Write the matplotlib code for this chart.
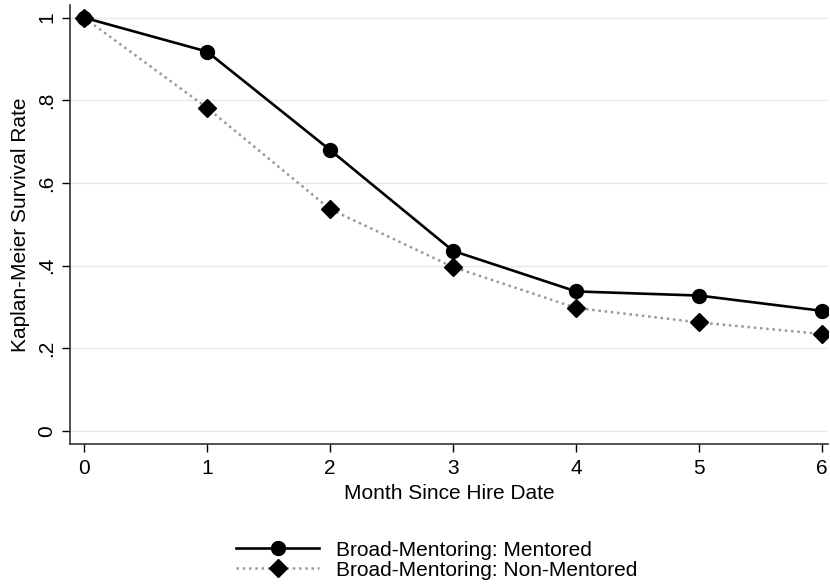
import numpy as np
import matplotlib.pyplot as plt

plt.rcParams['font.family'] = ['Liberation Sans', 'DejaVu Sans']

# Kaplan-Meier survival by month since hire
months = [0, 1, 2, 3, 4, 5, 6]
mentored = [1.0, 0.918, 0.680, 0.436, 0.338, 0.328, 0.291]
non_mentored = [1.0, 0.782, 0.537, 0.397, 0.298, 0.263, 0.235]

y_ticks = [0, 0.2, 0.4, 0.6, 0.8, 1.0]
y_tick_labels = ['0', '.2', '.4', '.6', '.8', '1']

fig = plt.figure(figsize=(8.3, 5.84), dpi=100)
ax = fig.add_axes([0.0843, 0.2397, 0.9137, 0.7513])

ax.plot(months, non_mentored, color='#999999', linestyle=(0, (1, 1.5)), linewidth=1.8,
        marker='D', markersize=9, markerfacecolor='black', markeredgecolor='black',
        label='Broad-Mentoring: Non-Mentored', zorder=3)
ax.plot(months, mentored, color='black', linewidth=1.9,
        marker='o', markersize=10, markerfacecolor='black', markeredgecolor='black',
        label='Broad-Mentoring: Mentored', zorder=4)

ax.set_xlim(-0.114, 6.05)
ax.set_ylim(-0.031, 1.03)
ax.set_xticks(months)
ax.set_yticks(y_ticks)
ax.set_yticklabels(y_tick_labels, rotation=90, va='center')
ax.tick_params(axis='both', direction='out', length=6, width=1, labelsize=15, colors='black')
ax.tick_params(axis='y', pad=4)
ax.tick_params(axis='x', pad=5)

ax.grid(axis='y', color='#e8e8e8', linewidth=1)
ax.set_axisbelow(True)
for side in ['top', 'right']:
    ax.spines[side].set_visible(False)
for side in ['left', 'bottom']:
    ax.spines[side].set_linewidth(1.2)
    ax.spines[side].set_color('#333333')

ax.set_xlabel('Month Since Hire Date', fontsize=15, labelpad=4)
ax.set_ylabel('Kaplan-Meier Survival Rate', fontsize=15, labelpad=5)

handles, labels = ax.get_legend_handles_labels()
fig.legend(handles[::-1], labels[::-1], loc='center', bbox_to_anchor=(0.526, 0.041),
           ncol=1, frameon=False, fontsize=15, handlelength=4.0, labelspacing=0.05,
           handletextpad=0.8, borderpad=0)

fig.savefig('out.png', dpi=100)
